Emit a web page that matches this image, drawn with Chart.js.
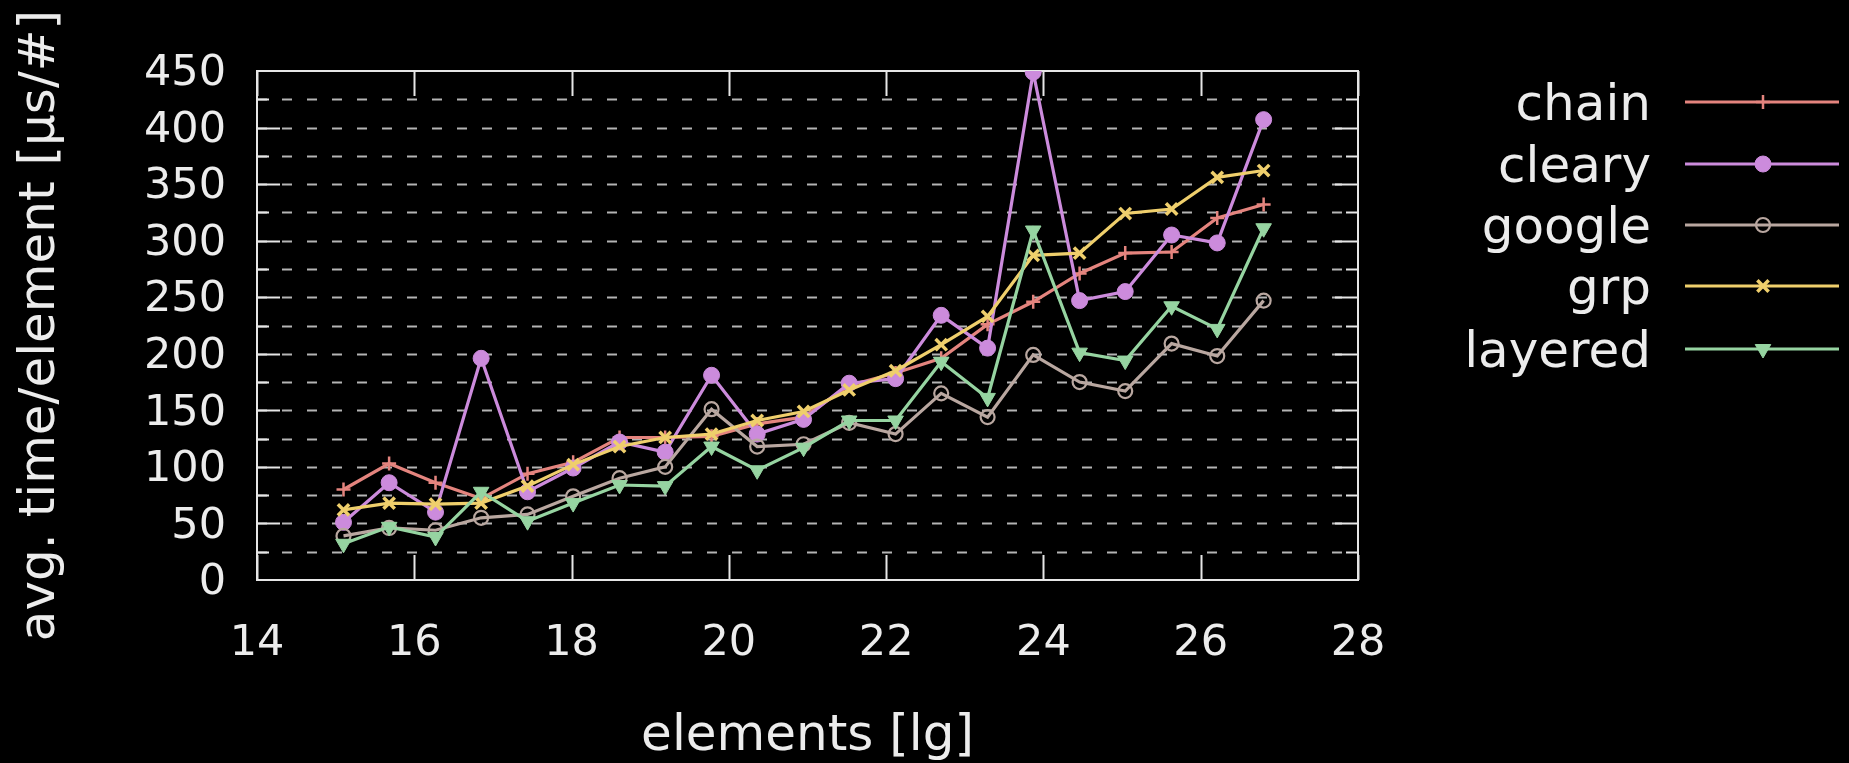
<!DOCTYPE html>
<html>
<head>
<meta charset="utf-8">
<script src="https://cdn.jsdelivr.net/npm/chart.js@4.4.1/dist/chart.umd.min.js"></script>
<style>
  html, body { margin: 0; padding: 0; background: #000; }
  #wrap { width: 1849px; height: 763px; }
</style>
</head>
<body>
<div id="wrap"><canvas id="chart" width="1849" height="763"></canvas></div>
<script>
// x = lg(elements)
const xs = [15.10, 15.68, 16.27, 16.85, 17.44, 18.02, 18.61, 19.19, 19.78, 20.36, 20.95,
            21.53, 22.12, 22.70, 23.29, 23.87, 24.46, 25.04, 25.63, 26.21, 26.80];

const chain    = [80, 103, 86, 72, 94, 104, 126, 126, 127, 138, 144, 172, 183, 196, 226, 246, 271, 289, 290, 320, 332];
const cleary   = [51, 86, 60, 196, 78, 99, 122, 113, 181, 129, 142, 174, 178, 234, 205, 449, 247, 255, 305, 298, 407];
const google   = [39, 46, 44, 55, 58, 74, 90, 100, 151, 118, 120, 139, 129, 165, 144, 199, 175, 167, 209, 198, 247];
const grp      = [62, 68, 67, 68, 83, 102, 118, 126, 129, 141, 149, 168, 185, 208, 233, 287, 289, 324, 328, 356, 362];
const layered  = [32, 47, 38, 78, 52, 68, 84, 83, 118, 97, 117, 141, 141, 193, 161, 309, 201, 194, 242, 222, 311];

const xTicks = [14, 16, 18, 20, 22, 24, 26, 28];
const yTicks = [0, 50, 100, 150, 200, 250, 300, 350, 400, 450];
const yGrid  = [25, 50, 75, 100, 125, 150, 175, 200, 225, 250, 275, 300, 325, 350, 375, 400, 425];

const seriesNames = ['chain', 'cleary', 'google', 'grp', 'layered'];
const seriesData = [chain, cleary, google, grp, layered];
const colors = ['#e4847e', '#cc8bdc', '#b9a7a0', '#efcf6c', '#96d4a1'];
const markers = [
  { pointStyle: 'cross', radius: 7, rotation: 0, borderWidth: 2.5, fill: true },
  { pointStyle: 'circle', radius: 8, rotation: 0, borderWidth: 1, fill: true },
  { pointStyle: 'circle', radius: 7, rotation: 0, borderWidth: 2.2, fill: false },
  { pointStyle: 'crossRot', radius: 8, rotation: 0, borderWidth: 3.5, fill: true },
  { pointStyle: 'triangle', radius: 9, rotation: 180, borderWidth: 1, fill: true }
];

const FONT = '"DejaVu Sans", sans-serif';
const TEXT = '#ececec';

const datasets = seriesNames.map(function(name, i) {
  return {
    label: name,
    data: xs.map(function(x, j) { return { x: x, y: seriesData[i][j] }; }),
    borderColor: colors[i],
    backgroundColor: markers[i].fill ? colors[i] : 'rgba(0,0,0,0)',
    borderWidth: 3.2,
    pointStyle: markers[i].pointStyle,
    pointRadius: markers[i].radius,
    pointRotation: markers[i].rotation,
    pointBorderWidth: markers[i].borderWidth,
    pointBackgroundColor: markers[i].fill ? colors[i] : 'rgba(0,0,0,0)',
    pointBorderColor: colors[i],
    tension: 0,
    order: 4 - i
  };
});

// gnuplot-like frame, dashed grid and inward ticks
const framePlugin = {
  id: 'frame',
  beforeDatasetsDraw: function(chart) {
    const ctx = chart.ctx;
    const a = chart.chartArea;
    const x = chart.scales.x, y = chart.scales.y;
    ctx.save();
    ctx.strokeStyle = '#b4b4b4';
    ctx.lineWidth = 1.8;
    ctx.setLineDash([10, 15]);
    yGrid.forEach(function(v) {
      const py = Math.round(y.getPixelForValue(v)) + 0.5;
      ctx.beginPath();
      ctx.moveTo(a.left, py);
      ctx.lineTo(a.right, py);
      ctx.stroke();
    });
    ctx.setLineDash([]);
    ctx.strokeStyle = '#e6e6e6';
    ctx.lineWidth = 2;
    yGrid.forEach(function(v) {
      const py = Math.round(y.getPixelForValue(v)) + 0.5;
      const len = v % 50 === 0 ? 23 : 12;
      ctx.beginPath();
      ctx.moveTo(a.left, py); ctx.lineTo(a.left + len, py);
      ctx.moveTo(a.right, py); ctx.lineTo(a.right - len, py);
      ctx.stroke();
    });
    xTicks.forEach(function(v) {
      const px = Math.round(x.getPixelForValue(v)) + 0.5;
      ctx.beginPath();
      ctx.moveTo(px, a.bottom); ctx.lineTo(px, a.bottom - 25);
      ctx.moveTo(px, a.top); ctx.lineTo(px, a.top + 25);
      ctx.stroke();
    });
    ctx.strokeRect(a.left, a.top, a.right - a.left, a.bottom - a.top);
    ctx.restore();
  },
  afterDraw: function(chart) {
    const ctx = chart.ctx;
    const a = chart.chartArea;
    ctx.save();
    ctx.fillStyle = TEXT;
    ctx.font = '50px ' + FONT;
    ctx.textAlign = 'center';
    ctx.textBaseline = 'middle';
    // axis titles
    ctx.fillText('elements [lg]', (a.left + a.right) / 2, 737);
    ctx.save();
    ctx.translate(41, (a.top + a.bottom) / 2);
    ctx.rotate(-Math.PI / 2);
    ctx.fillText('avg. time/element [µs/#]', 0, 0);
    ctx.restore();
    // legend
    const rows = [102, 164, 225, 286, 349];
    seriesNames.forEach(function(name, i) {
      const ly = rows[i];
      ctx.fillStyle = TEXT;
      ctx.textAlign = 'right';
      ctx.fillText(name, 1651, ly + 5);
      ctx.strokeStyle = colors[i];
      ctx.lineWidth = 3;
      ctx.beginPath();
      ctx.moveTo(1685, ly);
      ctx.lineTo(1839, ly);
      ctx.stroke();
      ctx.fillStyle = markers[i].fill ? colors[i] : 'rgba(0,0,0,0)';
      ctx.lineWidth = markers[i].borderWidth;
      Chart.helpers.drawPoint(ctx, {
        pointStyle: markers[i].pointStyle,
        radius: markers[i].radius,
        rotation: markers[i].rotation,
        borderWidth: markers[i].borderWidth
      }, 1763, ly);
    });
    ctx.restore();
  }
};

const bgPlugin = {
  id: 'bg',
  beforeDraw: function(chart) {
    const ctx = chart.ctx;
    ctx.save();
    ctx.fillStyle = '#000';
    ctx.fillRect(0, 0, chart.width, chart.height);
    ctx.restore();
  }
};

new Chart(document.getElementById('chart'), {
  type: 'line',
  data: { datasets: datasets },
  options: {
    responsive: false,
    animation: false,
    layout: { padding: { top: 71, right: 491, left: 0, bottom: 0 } },
    plugins: { legend: { display: false }, tooltip: { enabled: false } },
    scales: {
      x: {
        type: 'linear',
        min: 14,
        max: 28,
        afterBuildTicks: function(scale) { scale.ticks = xTicks.map(function(v) { return { value: v }; }); },
        afterFit: function(scale) { scale.height = 183; },
        grid: { display: false, drawTicks: false },
        border: { display: false },
        ticks: { color: TEXT, font: { family: FONT, size: 43 }, padding: 38, maxRotation: 0, autoSkip: false }
      },
      y: {
        type: 'linear',
        min: 0,
        max: 450,
        afterBuildTicks: function(scale) { scale.ticks = yTicks.map(function(v) { return { value: v }; }); },
        afterFit: function(scale) { scale.width = 257; },
        grid: { display: false, drawTicks: false },
        border: { display: false },
        ticks: { color: TEXT, font: { family: FONT, size: 43 }, padding: 31, autoSkip: false, labelOffset: 3 }
      }
    }
  },
  plugins: [bgPlugin, framePlugin]
});
</script>
</body>
</html>
